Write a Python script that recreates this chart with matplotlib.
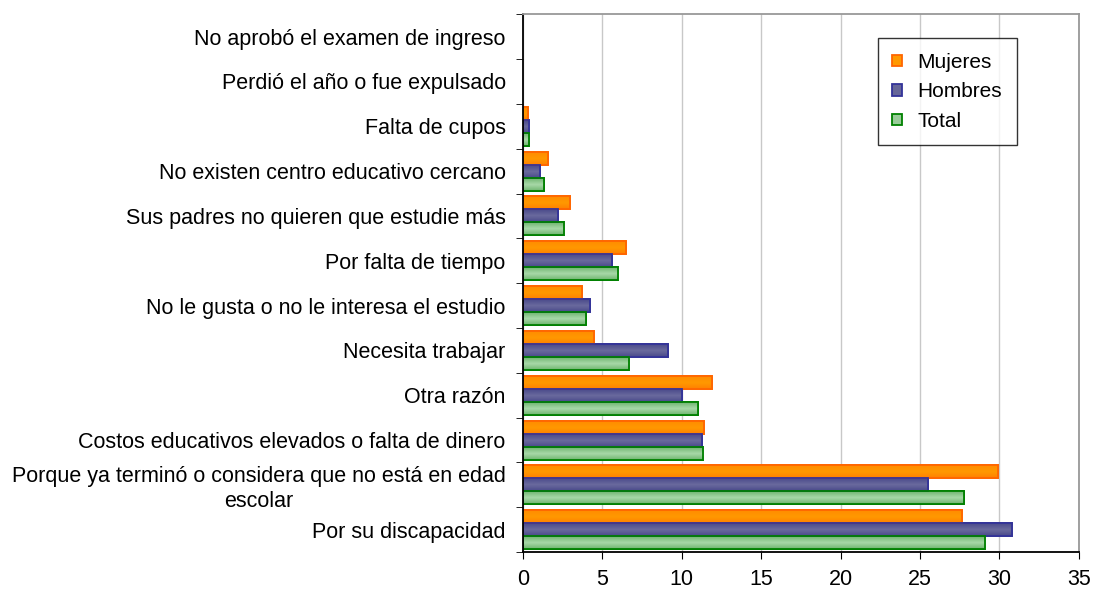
import numpy as np
import matplotlib
matplotlib.use("Agg")
import matplotlib.pyplot as plt
from matplotlib.colors import LinearSegmentedColormap

plt.rcParams['font.family'] = ['Liberation Sans', 'DejaVu Sans']

categorias = [
    "Por su discapacidad",
    "Porque ya terminó o considera que no está en edad\nescolar",
    "Costos educativos elevados o falta de dinero",
    "Otra razón",
    "Necesita trabajar",
    "No le gusta o no le interesa el estudio",
    "Por falta de tiempo",
    "Sus padres no quieren que estudie más",
    "No existen centro educativo cercano",
    "Falta de cupos",
    "Perdió el año o fue expulsado",
    "No aprobó el examen de ingreso",
]
mujeres = [27.65, 29.9, 11.4, 11.9, 4.5, 3.7, 6.5, 2.95, 1.55, 0.3, 0.0, 0.0]
hombres = [30.8, 25.5, 11.25, 10.0, 9.1, 4.2, 5.6, 2.2, 1.05, 0.4, 0.0, 0.0]
total = [29.1, 27.75, 11.35, 11.0, 6.7, 3.95, 6.0, 2.6, 1.3, 0.4, 0.0, 0.0]

fig = plt.figure(figsize=(10.93, 5.93), dpi=100)
ax = fig.add_axes([0.4785, 0.069, 0.5085, 0.907])

y = np.arange(len(categorias))
h = 0.29

# nombre, valores, desplazamiento, color, borde, degradado (borde -> centro)
series = [
    ("Mujeres", mujeres, h, "#ff9900", "#ff6600", ["#ff8000", "#ff9900", "#ff8c00"]),
    ("Hombres", hombres, 0, "#666699", "#333399", ["#4a4a8a", "#6a6a9e", "#4a4a8a"]),
    ("Total", total, -h, "#99cc99", "#008000", ["#6fb56f", "#a8d8a8", "#6fb56f"]),
]
grad = np.linspace(0, 1, 64).reshape(-1, 1)
for nombre, vals, off, fc, ec, gcols in series:
    lw = [1.3 if v > 0 else 0 for v in vals]
    bars = ax.barh(y + off, vals, height=h, color=fc, edgecolor=ec, linewidth=lw,
                   label=nombre, zorder=3)
    cmap = LinearSegmentedColormap.from_list(nombre, gcols)
    for b, v in zip(bars, vals):
        if v <= 0:
            continue
        y0 = b.get_y()
        im = ax.imshow(grad, cmap=cmap, aspect='auto', interpolation='bilinear',
                       extent=(0, v, y0, y0 + h), origin='lower', zorder=3.5)
        im.set_clip_path(b)
    # borde encima del degradado
    ax.barh(y + off, vals, height=h, facecolor='none', edgecolor=ec, linewidth=lw,
            zorder=4)

ax.set_xlim(0, 35)
ax.set_ylim(-0.5, len(categorias) - 0.5)
ax.set_xticks(np.arange(0, 36, 5))
ax.set_yticks(y)
ax.set_yticklabels(categorias, fontsize=15.5, ha='right', multialignment='center',
                   linespacing=1.25)
ax.tick_params(axis='y', which='major', length=0, pad=12.5)
ax.set_yticks(np.arange(-0.5, len(categorias), 1), minor=True)
ax.tick_params(axis='y', which='minor', length=5, direction='out', color='black')
ax.tick_params(axis='x', length=5, direction='out', labelsize=15.5, pad=7)

ax.grid(axis='x', color='#c8c8c8', linewidth=1, zorder=0)
ax.spines['left'].set_color('black')
ax.spines['bottom'].set_color('black')
ax.spines['top'].set_color('#999999')
ax.spines['right'].set_color('#999999')
for s in ax.spines.values():
    s.set_linewidth(1.3)
    s.set_zorder(5)

leg = ax.legend(loc='upper right', bbox_to_anchor=(0.888, 0.955), fontsize=15,
                frameon=True, fancybox=False, edgecolor='black',
                handlelength=0.45, handleheight=0.45, labelspacing=0.5,
                borderpad=0.7, handletextpad=0.75, borderaxespad=0)
leg.get_frame().set_linewidth(1.0)
leg.set_zorder(6)

fig.savefig("out.png", dpi=100)
